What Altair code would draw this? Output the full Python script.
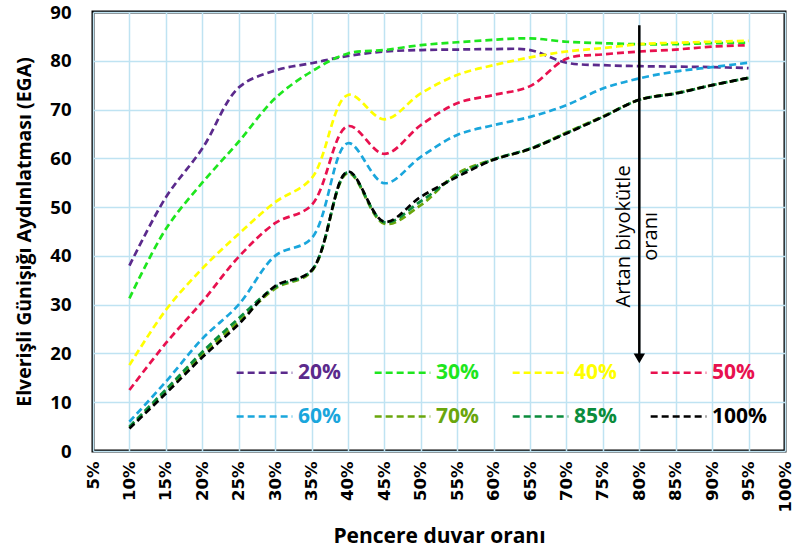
import altair as alt
import pandas as pd

# Window-to-wall ratio (%) at which each series was evaluated
pwr = [10, 15, 20, 25, 30, 35, 40, 45, 50, 55, 60, 65, 70, 75, 80, 85, 90, 95]

# Useful daylight illuminance (EGA) for each biomass ratio
s20 = [38.0, 52.0, 62.0, 74.5, 78.0, 79.5, 81.0, 81.9, 82.2, 82.3, 82.4, 82.2, 79.6, 79.1, 78.9, 78.8, 78.7, 78.5]
s30 = [31.3, 45.5, 55.0, 63.4, 72.3, 77.8, 81.5, 82.2, 83.2, 83.8, 84.3, 84.6, 83.9, 83.6, 83.4, 83.4, 83.6, 83.7]
s40 = [17.6, 28.9, 37.4, 44.5, 51.0, 55.9, 73.0, 68.0, 73.3, 77.1, 79.1, 80.7, 81.9, 82.6, 83.4, 83.7, 83.9, 84.1]
s50 = [12.5, 22.1, 30.6, 39.8, 46.7, 50.4, 66.6, 60.9, 66.8, 71.3, 73.0, 74.8, 80.4, 81.3, 81.9, 82.3, 82.9, 83.2]
s60 = [6.0, 14.2, 23.0, 30.0, 40.0, 43.6, 63.1, 54.9, 60.3, 64.8, 66.8, 68.5, 70.9, 74.3, 76.4, 77.8, 78.7, 79.6]
s70 = [4.8, 12.3, 19.8, 26.5, 33.3, 36.8, 57.0, 46.6, 50.4, 56.9, 59.8, 61.9, 65.3, 68.6, 72.0, 73.4, 75.0, 76.5]
s85 = [5.0, 12.6, 20.3, 27.2, 33.6, 37.0, 57.2, 46.9, 51.2, 56.5, 59.8, 62.0, 65.2, 68.5, 72.0, 73.3, 75.0, 76.5]
s100 = [4.6, 11.8, 19.2, 26.0, 33.8, 37.0, 57.3, 47.0, 52.1, 56.2, 59.7, 61.9, 65.1, 68.5, 72.0, 73.3, 75.0, 76.5]

series_names = ["20%", "30%", "40%", "50%", "60%", "70%", "85%", "100%"]
series_values = [s20, s30, s40, s50, s60, s70, s85, s100]
series_colors = ["#5b2a8c", "#1ee61e", "#ffff00", "#e8114f", "#1aa6dc", "#6aa60c", "#0a8c3c", "#000000"]

x_ticks = list(range(5, 101, 5))
y_ticks = list(range(0, 91, 10))

# Arrow showing the direction of increasing biomass ratio
arrow_x = [80]
arrow_top = [87.3]
arrow_tip = [19.0]
arrow_label_y = [44.0]
arrow_label = ["Artan biyokütle\noranı"]

rows = []
for name, vals in zip(series_names, series_values):
    for p, v in zip(pwr, vals):
        rows.append({"pwr": p, "ega": v, "seri": name, "order": series_names.index(name)})
df = pd.DataFrame(rows)

annot = pd.DataFrame({"x": arrow_x, "y": arrow_top, "y2": arrow_tip,
                      "ly": arrow_label_y, "label": arrow_label})

label_color_expr = " : ".join(
    f"datum.label == '{n}' ? '{c}'" for n, c in zip(series_names, series_colors)
) + " : 'black'"

x_scale = alt.Scale(domain=[5, 100], nice=False, zero=False)
y_scale = alt.Scale(domain=[0, 90], nice=False)

x_axis = alt.Axis(values=x_ticks, labelExpr="datum.value + '%'", labelAngle=-90,
                  labelFont="DejaVu Sans", labelFontWeight="bold", labelFontSize=16.5,
                  labelColor="black", labelPadding=10, labelOverlap=False,
                  labelBound=False, labelFlush=False, labelSeparation=0,
                  ticks=False, domain=False,
                  gridColor="#bfe3f2", gridWidth=1.5, gridOpacity=1,
                  title="Pencere duvar oranı", titleFont="Open Sans",
                  titleFontWeight="bold", titleFontSize=21, titleColor="black",
                  titlePadding=14)
y_axis = alt.Axis(values=y_ticks, labelFont="Open Sans", labelFontWeight="bold",
                  labelFontSize=18.5, labelColor="black", labelPadding=22,
                  ticks=False, domain=False, gridColor="#bfe3f2", gridWidth=1.5,
                  gridOpacity=1, title="Elverişli Günişığı Aydınlatması (EGA)",
                  titleFont="Open Sans", titleFontWeight="bold", titleFontSize=19.5,
                  titleColor="black", titlePadding=15)

lines = alt.Chart(df).mark_line(
    strokeDash=[7, 4], strokeWidth=2.7, interpolate="catmull-rom"
).encode(
    x=alt.X("pwr:Q", scale=x_scale, axis=x_axis),
    y=alt.Y("ega:Q", scale=y_scale, axis=y_axis),
    color=alt.Color("seri:N", scale=alt.Scale(domain=series_names, range=series_colors),
                    legend=alt.Legend(orient="none", legendX=142, legendY=331, columns=4,
                                      direction="horizontal", title=None,
                                      symbolType="stroke", symbolSize=3100,
                                      symbolStrokeWidth=2.7, symbolDash=[7, 4],
                                      labelFont="Open Sans", labelFontWeight="bold",
                                      labelFontSize=21, labelColor={"expr": label_color_expr},
                                      labelOffset=4, columnPadding=16, rowPadding=4,
                                      gridAlign="all")),
    order=alt.Order("order:Q"),
    detail="seri:N",
)

arrow_line = alt.Chart(annot).mark_rule(color="black", strokeWidth=2.5).encode(
    x=alt.X("x:Q", scale=x_scale, axis=x_axis),
    y=alt.Y("y:Q", scale=y_scale, axis=y_axis), y2="y2:Q"
)
arrow_head = alt.Chart(annot).mark_point(
    shape="triangle-down", filled=True, color="black", size=130, opacity=1
).encode(x=alt.X("x:Q", scale=x_scale, axis=x_axis),
         y=alt.Y("y2:Q", scale=y_scale, axis=y_axis))
arrow_text = alt.Chart(annot).mark_text(
    angle=270, font="Open Sans", fontSize=20, color="black", lineBreak="\n",
    lineHeight=27, align="center", baseline="middle", dy=-15
).encode(x=alt.X("x:Q", scale=x_scale, axis=x_axis),
         y=alt.Y("ly:Q", scale=y_scale, axis=y_axis), text="label:N")

chart = alt.layer(lines, arrow_line, arrow_head, arrow_text).properties(
    width=692, height=439,
    background="white",
    autosize=alt.AutoSizeParams(type="none"),
    padding={"left": 93, "top": 12, "right": 12, "bottom": 107},
).configure_view(stroke="black", strokeWidth=3).configure_axisX(labelOverlap=False)

chart.save("out.html", embed_options={"renderer": "svg", "actions": False})
